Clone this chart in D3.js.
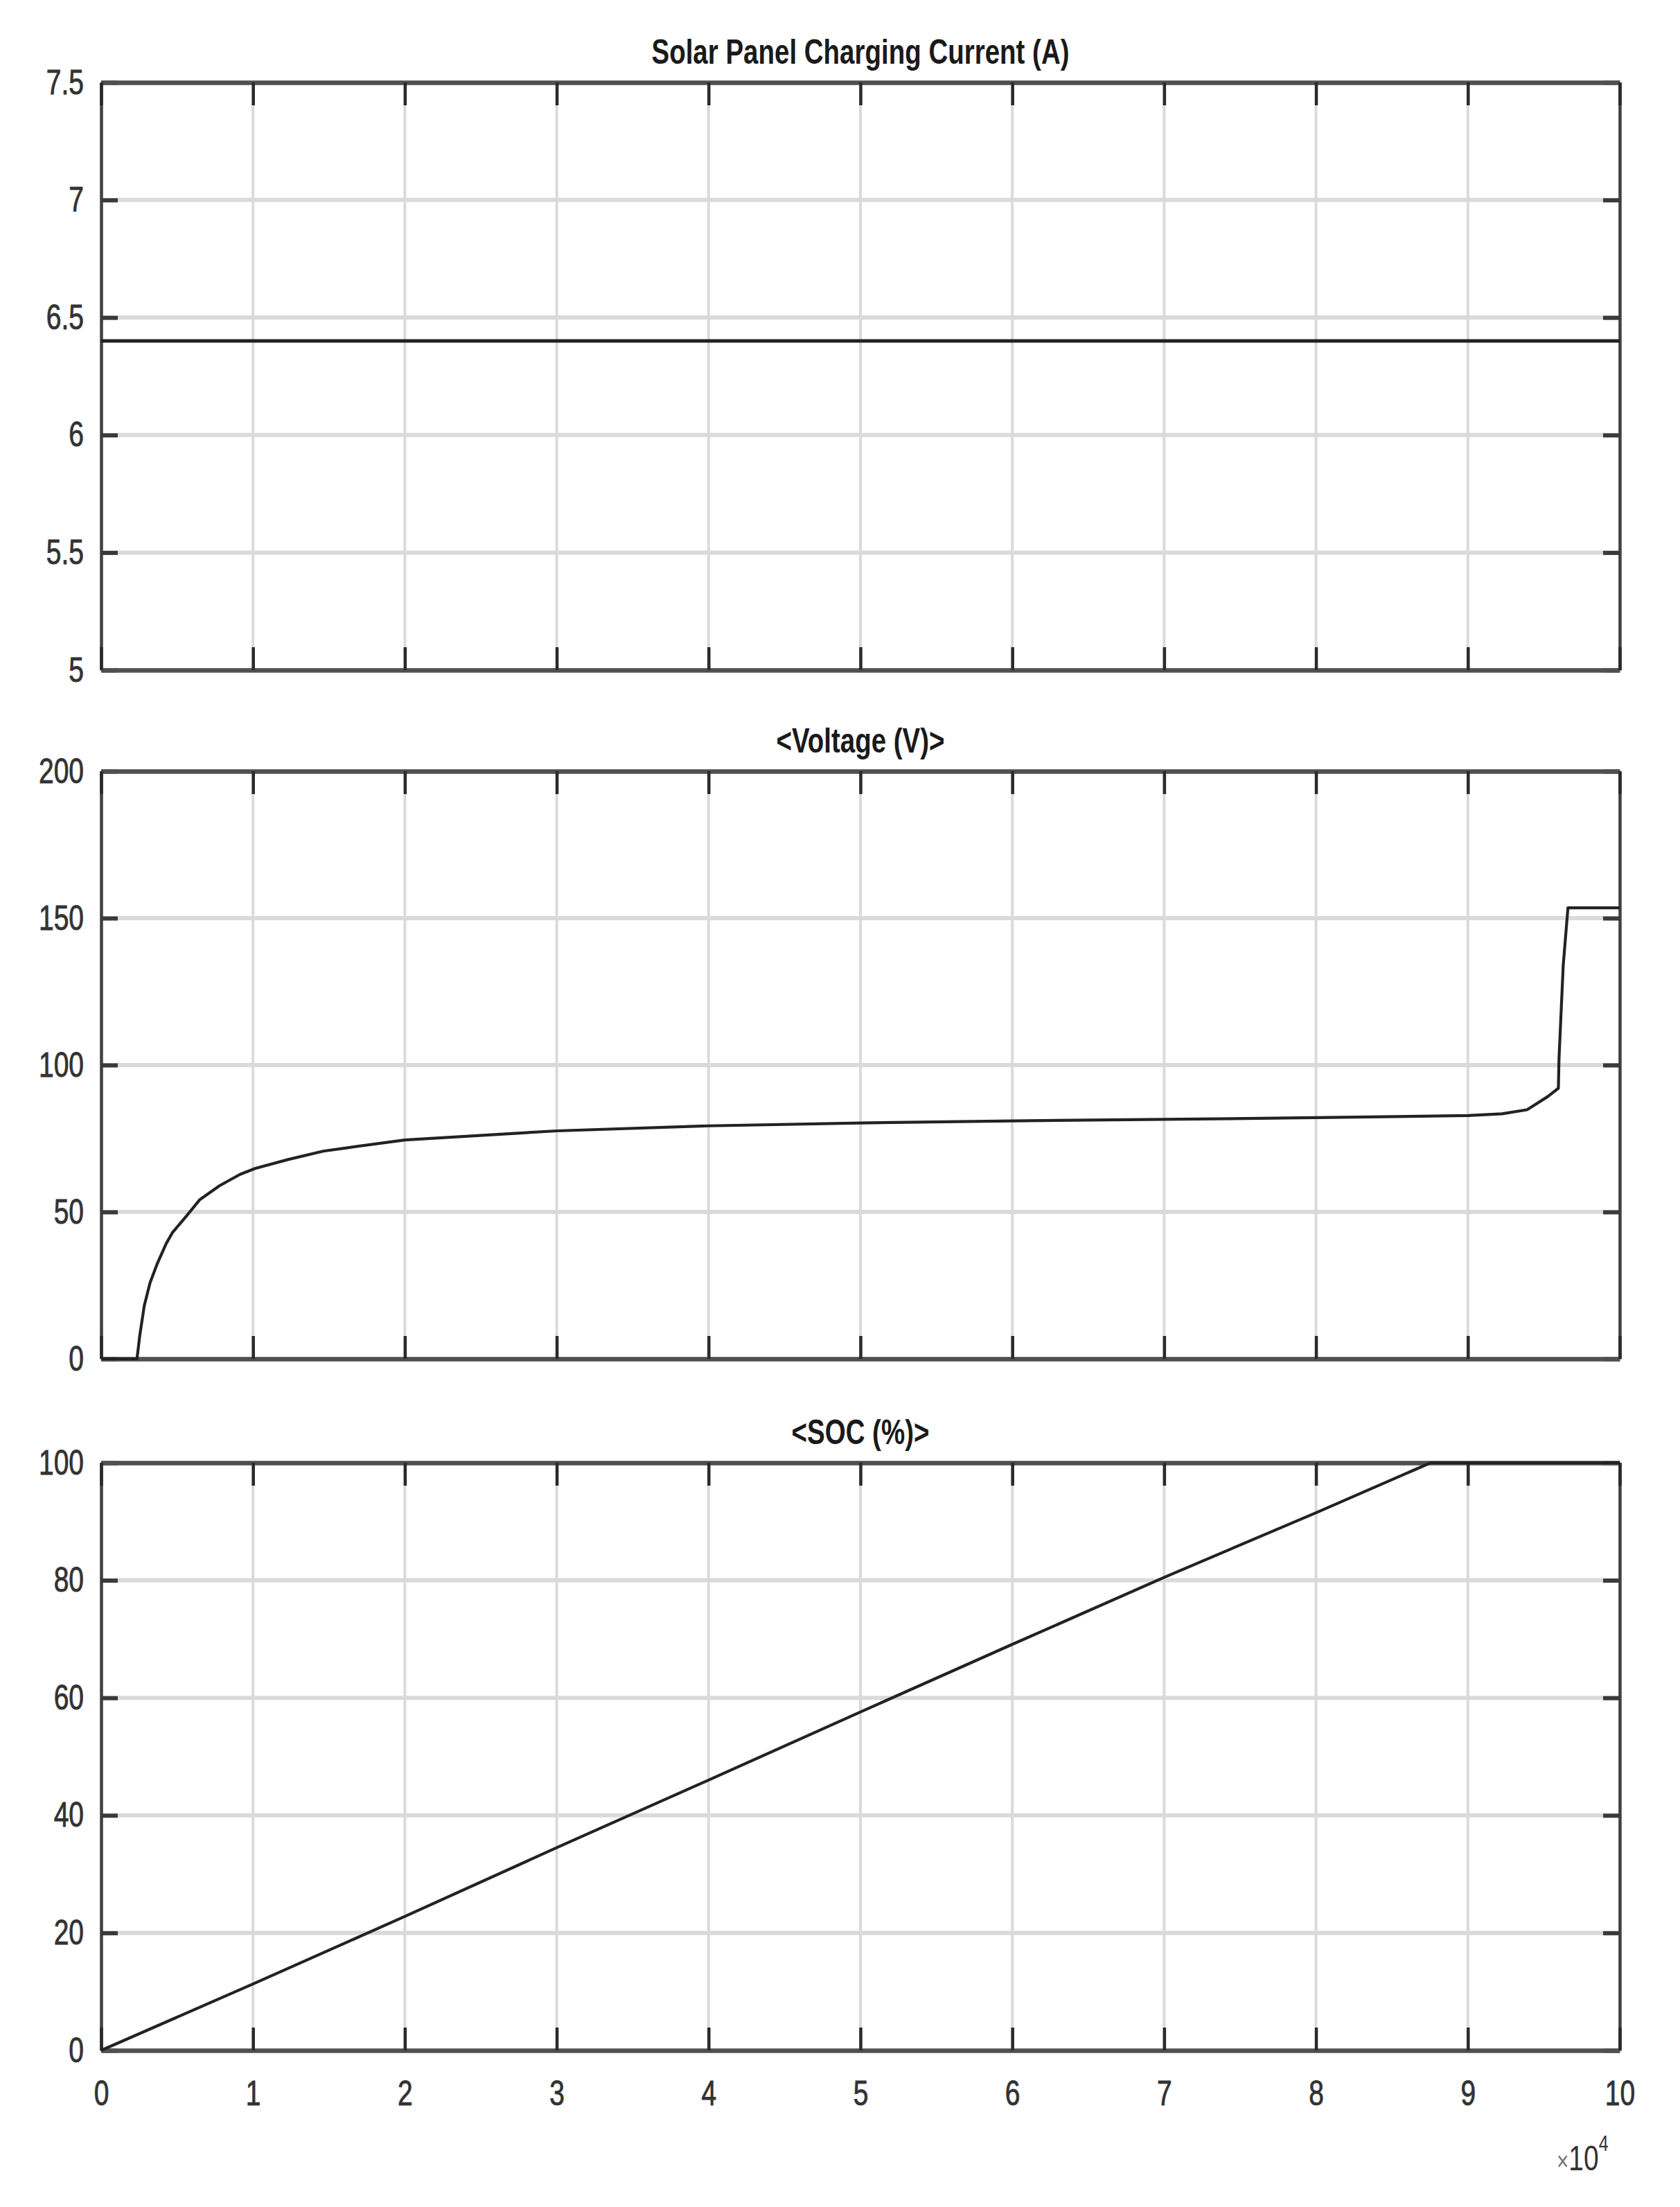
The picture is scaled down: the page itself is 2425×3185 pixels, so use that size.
<!DOCTYPE html>
<html>
<head>
<meta charset="utf-8">
<script src="https://cdn.jsdelivr.net/npm/d3@7"></script>
<style>
  html, body { margin: 0; padding: 0; background: #ffffff; }
  svg { display: block; }
  text { font-family: "Liberation Sans", Arial, Helvetica, sans-serif; }
</style>
</head>
<body>
<svg id="chart" width="2425" height="3185"></svg>
<script>
// ---------------- DATA (time in units of 1e4 s) ----------------
const xTicks = [0, 1, 2, 3, 4, 5, 6, 7, 8, 9, 10];
const xTickLabels = ["0", "1", "2", "3", "4", "5", "6", "7", "8", "9", "10"];

const titles = ["Solar Panel Charging Current (A)", "<Voltage (V)>", "<SOC (%)>"];

// Panel 1: solar panel charging current
const currentTime  = [0, 10];
const currentValue = [6.4, 6.4];
const currentTicks = [5, 5.5, 6, 6.5, 7, 7.5];
const currentTickLabels = ["5", "5.5", "6", "6.5", "7", "7.5"];

// Panel 2: voltage
const voltageTime  = [0, 0.236, 0.254, 0.284, 0.322, 0.368, 0.429, 0.47, 0.56, 0.65, 0.779, 0.915,
                      1.014, 1.235, 1.463, 1.615, 2, 3, 4, 5, 6, 7, 8, 9, 9.224, 9.39, 9.527, 9.596,
                      9.60, 9.628, 9.659, 10];
const voltageValue = [0, 0, 7.8, 18.1, 25.9, 32.2, 39.3, 43.0, 48.5, 54.2, 58.9, 62.8,
                      64.8, 67.9, 70.7, 71.8, 74.5, 77.6, 79.3, 80.3, 81.0, 81.5, 82.1, 82.8, 83.4, 84.8, 89.3, 92.1,
                      102, 134, 153.5, 153.5];
const voltageTicks = [0, 50, 100, 150, 200];
const voltageTickLabels = ["0", "50", "100", "150", "200"];

// Panel 3: state of charge
const socTime  = [0, 1, 2, 3, 4, 5, 6, 7, 8, 8.755, 10];
const socValue = [0, 11.3, 22.8, 34.5, 46.0, 57.6, 69.1, 80.5, 91.5, 100, 100];
const socTicks = [0, 20, 40, 60, 80, 100];
const socTickLabels = ["0", "20", "40", "60", "80", "100"];

// ---------------- LAYOUT ----------------
const L = 146, R = 2338, PH = 848;
const tops = [119, 1113, 2111];
const SX = 0.78; // horizontal text compression
const gridColor = "#dadada";
const axisColor = "#404040";
const lineColor = "#222";

const svg = d3.select("#chart");
svg.append("rect").attr("width", 2425).attr("height", 3185).attr("fill", "#fff");

const x = d3.scaleLinear().domain([0, 10]).range([L, R]);

const panels = [
  { t: currentTime, v: currentValue, ticks: currentTicks, labels: currentTickLabels, dom: [5, 7.5] },
  { t: voltageTime, v: voltageValue, ticks: voltageTicks, labels: voltageTickLabels, dom: [0, 200] },
  { t: socTime, v: socValue, ticks: socTicks, labels: socTickLabels, dom: [0, 100] }
];

panels.forEach((p, i) => {
  const top = tops[i], bottom = top + PH;
  const y = d3.scaleLinear().domain(p.dom).range([bottom, top]);
  const g = svg.append("g");

  // gridlines
  g.append("g").selectAll("line").data(xTicks).join("line")
    .attr("x1", d => x(d)).attr("x2", d => x(d)).attr("y1", top).attr("y2", bottom)
    .attr("stroke", gridColor).attr("stroke-width", 4);
  g.append("g").selectAll("line").data(p.ticks).join("line")
    .attr("x1", L).attr("x2", R).attr("y1", d => y(d)).attr("y2", d => y(d))
    .attr("stroke", gridColor).attr("stroke-width", 6);

  // axes (ticks inward on all four sides)
  const left = d3.axisLeft(y).tickValues(p.ticks).tickFormat((d, k) => p.labels[k])
    .tickSizeInner(-24).tickSizeOuter(0).tickPadding(25);
  const right = d3.axisRight(y).tickValues(p.ticks).tickFormat("")
    .tickSizeInner(-24).tickSizeOuter(0);
  const topAx = d3.axisTop(x).tickValues(xTicks).tickFormat("")
    .tickSizeInner(-33).tickSizeOuter(0);
  const botAx = d3.axisBottom(x).tickValues(xTicks)
    .tickFormat((d, k) => i === 2 ? xTickLabels[k] : "")
    .tickSizeInner(-33).tickSizeOuter(0).tickPadding(44);

  const gl = g.append("g").attr("transform", `translate(${L},0)`).call(left);
  const gr = g.append("g").attr("transform", `translate(${R},0)`).call(right);
  const gt = g.append("g").attr("transform", `translate(0,${top})`).call(topAx);
  const gb = g.append("g").attr("transform", `translate(0,${bottom})`).call(botAx);

  [gl, gr].forEach(a => {
    a.select(".domain").attr("stroke", axisColor).attr("stroke-width", 4.5);
    a.selectAll(".tick line").attr("stroke", "#3a3a3a").attr("stroke-width", 6);
  });
  [gt, gb].forEach(a => {
    a.select(".domain").attr("stroke", "#505050").attr("stroke-width", 6.5);
    a.selectAll(".tick line").attr("stroke", "#2a2a2a").attr("stroke-width", 4.5);
  });
  [gl, gb].forEach(a => {
    a.selectAll(".tick text")
      .attr("font-size", 50)
      .attr("font-family", '"Liberation Sans", Arial, sans-serif')
      .attr("fill", "#333")
      .attr("stroke", "#333").attr("stroke-width", 0.9)
      .attr("transform", `scale(${SX},1)`);
  });
  gl.selectAll(".tick text").attr("x", -25 / SX);

  // data line
  const pts = p.t.map((t, k) => [t, p.v[k]]);
  const line = d3.line().x(d => x(d[0])).y(d => y(d[1]));
  g.append("path").datum(pts).attr("d", line)
    .attr("fill", "none").attr("stroke", lineColor)
    .attr("stroke-width", i === 0 ? 5 : 4.2).attr("stroke-linejoin", "round");

  // title
  g.append("text")
    .attr("transform", `translate(${(L + R) / 2},${top - 27}) scale(0.77,1)`)
    .attr("text-anchor", "middle")
    .attr("font-size", 50).attr("font-weight", "bold").attr("fill", "#1a1a1a")
    .text(titles[i]);
});

// exponent label  x10^4
const ex = svg.append("text")
  .attr("transform", `translate(2247,3132) scale(${SX},1)`)
  .attr("font-size", 50).attr("fill", "#333");
ex.append("tspan").attr("font-size", 38).attr("fill", "#777").text("\u00d7");
ex.append("tspan").text("10");
ex.append("tspan").attr("font-size", 32).attr("dy", -28).text("4");
</script>
</body>
</html>
